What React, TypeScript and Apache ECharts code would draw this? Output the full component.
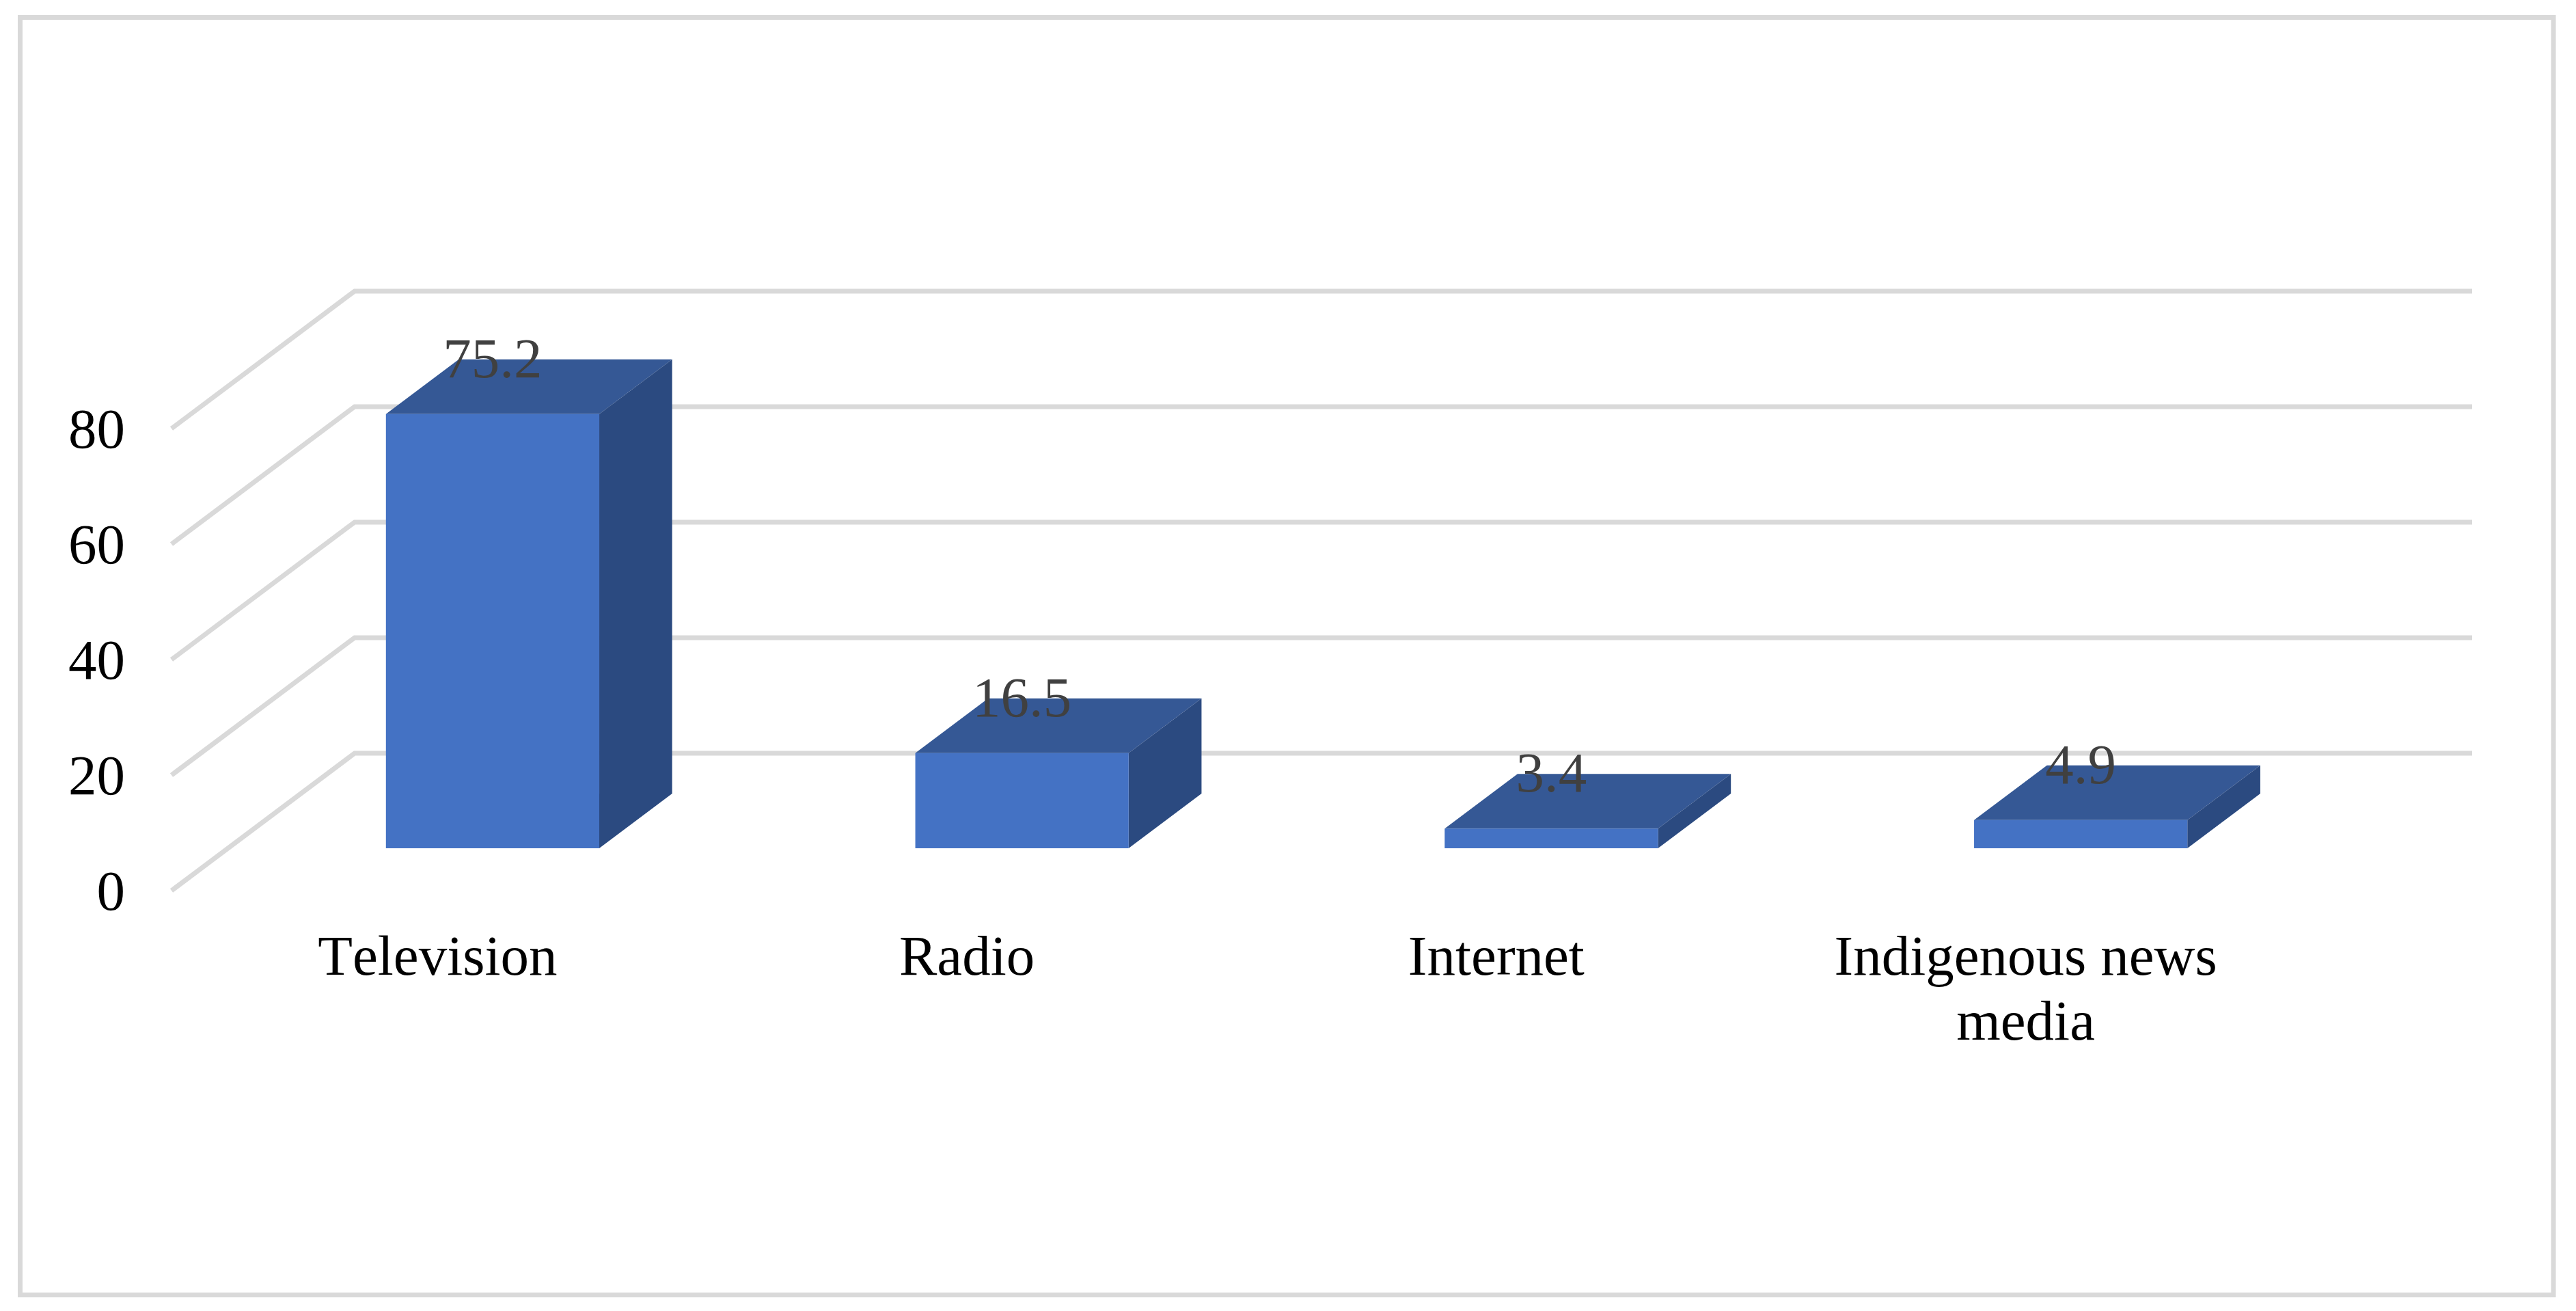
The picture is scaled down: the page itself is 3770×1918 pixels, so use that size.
import React, { useEffect, useRef } from "react";
import * as echarts from "echarts";

const categories = ["Television", "Radio", "Internet", "Indigenous news media"];
const values = [75.2, 16.5, 3.4, 4.9];
const yTicks = [0, 20, 40, 60, 80];

const FONT = '"Liberation Serif", "Times New Roman", serif';
const DEPTH_X = 268;
const DEPTH_Y = -201;
const FRONT_FRAC = 0.308;
const BACK_FRAC = 0.706;
const BAR_RATIO = 0.403;
const GRID_LEFT = 251;
const GRID_WIDTH = 3099;

export default function App() {
  const ref = useRef<HTMLDivElement>(null);
  useEffect(() => {
    document.body.style.margin = "0";
    const chart = echarts.init(ref.current!, undefined, { renderer: "svg" });
    chart.setOption({
      animation: false,
      backgroundColor: "#ffffff",
      graphic: [
        {
          type: "rect",
          z: 0,
          shape: { x: 29.5, y: 25.5, width: 3707.5, height: 1869 },
          style: { fill: "none", stroke: "#D9D9D9", lineWidth: 7 },
        },
      ],
      grid: { left: GRID_LEFT, top: 627, width: GRID_WIDTH, height: 676 },
      xAxis: {
        type: "category",
        data: categories,
        axisLine: { show: false },
        axisTick: { show: false },
        axisLabel: {
          interval: 0,
          margin: 47,
          fontFamily: FONT,
          fontSize: 83,
          color: "#000000",
          lineHeight: 95,
          padding: [0, 0, 0, 4],
          formatter: (s: string) => s.replace("news ", "news\n"),
        },
      },
      yAxis: {
        type: "value",
        min: 0,
        max: 80,
        interval: 20,
        axisLine: { show: false },
        axisTick: { show: false },
        splitLine: { show: false },
        axisLabel: {
          margin: 68,
          fontFamily: FONT,
          fontSize: 83,
          color: "#000000",
          padding: [0, 0, 10, 0],
        },
      },
      series: [
        {
          type: "custom",
          z: 1,
          silent: true,
          data: yTicks.map((t) => [0, t]),
          encode: { x: 0, y: 1 },
          renderItem: (_p: any, api: any) => {
            const p = api.coord([0, api.value(1)]);
            const band = api.size([1, 0])[0];
            const x0 = p[0] - band / 2;
            const x1 = x0 + band * categories.length;
            return {
              type: "polyline",
              shape: {
                points: [
                  [x0, p[1]],
                  [x0 + DEPTH_X, p[1] + DEPTH_Y],
                  [x1 + DEPTH_X, p[1] + DEPTH_Y],
                ],
              },
              style: { fill: "none", stroke: "#D9D9D9", lineWidth: 7 },
            };
          },
        },
        {
          type: "custom",
          z: 2,
          silent: true,
          data: values.map((v, i) => [i, v]),
          encode: { x: 0, y: 1 },
          renderItem: (_p: any, api: any) => {
            const v = api.value(1);
            const top = api.coord([api.value(0), v]);
            const base = api.coord([api.value(0), 0]);
            const w = api.size([1, 0])[0] * BAR_RATIO;
            const fx = FRONT_FRAC * DEPTH_X;
            const fy = FRONT_FRAC * DEPTH_Y;
            const bx = (BACK_FRAC - FRONT_FRAC) * DEPTH_X;
            const by = (BACK_FRAC - FRONT_FRAC) * DEPTH_Y;
            const l = top[0] + fx - w / 2;
            const r = l + w;
            const t = top[1] + fy;
            const b = base[1] + fy;
            return {
              type: "group",
              children: [
                {
                  type: "polygon",
                  shape: { points: [[l, t], [r, t], [r + bx, t + by], [l + bx, t + by]] },
                  style: { fill: "#355895" },
                },
                {
                  type: "polygon",
                  shape: { points: [[r, t], [r + bx, t + by], [r + bx, b + by], [r, b]] },
                  style: { fill: "#2B4A80" },
                },
                {
                  type: "rect",
                  shape: { x: l, y: t, width: w, height: b - t },
                  style: { fill: "#4472C4" },
                },
                {
                  type: "text",
                  z2: 10,
                  style: {
                    text: v.toFixed(1),
                    x: (l + r) / 2,
                    y: t - 82,
                    align: "center",
                    verticalAlign: "middle",
                    fill: "#404040",
                    fontFamily: FONT,
                    fontSize: 83,
                  },
                },
              ],
            };
          },
        },
      ],
    });
    return () => chart.dispose();
  }, []);
  return <div ref={ref} style={{ width: 3770, height: 1918, fontKerning: "none" }} />;
}
